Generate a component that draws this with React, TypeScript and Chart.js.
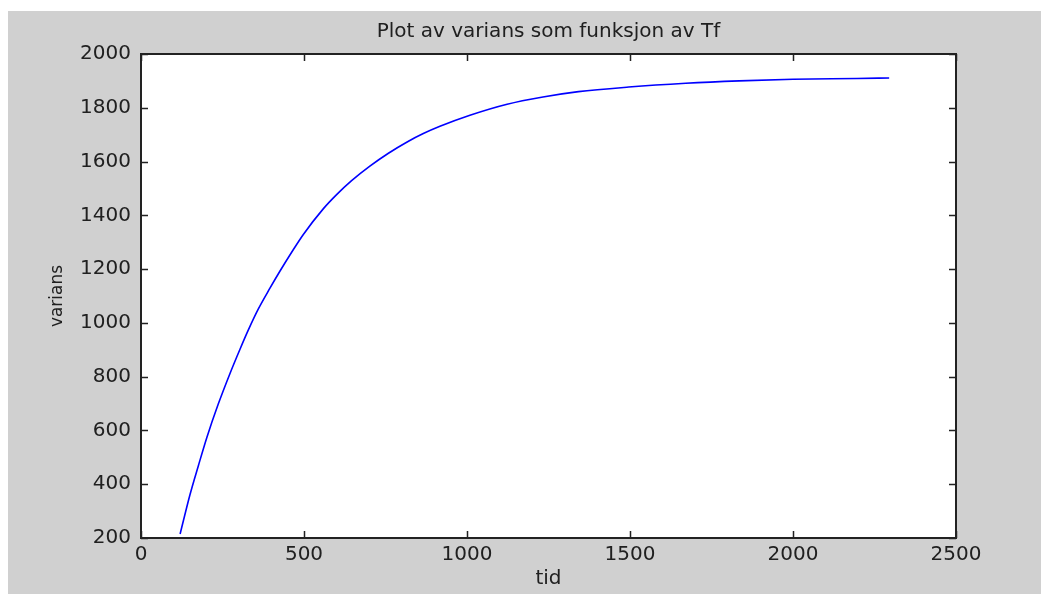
import React, { useEffect, useRef } from "react";
import { Chart, registerables } from "chart.js";

Chart.register(...registerables);

const tid: number[] = [120, 150, 176, 202, 237, 273, 304, 329, 360, 396, 426, 467, 498, 559, 600, 646, 702, 759, 815, 866, 917, 1009, 1123, 1233, 1342, 1496, 1671, 1835, 2000, 2196, 2295];
const varians: number[] = [215, 360, 469, 574, 698, 812, 903, 973, 1052, 1130, 1192, 1272, 1329, 1424, 1477, 1529, 1583, 1631, 1672, 1704, 1731, 1772, 1813, 1840, 1860, 1877, 1891, 1900, 1906, 1909, 1911];

const xTicks: number[] = [0, 500, 1000, 1500, 2000, 2500];
const yTicks: number[] = [200, 400, 600, 800, 1000, 1200, 1400, 1600, 1800, 2000];

const titleText = "Plot av varians som funksjon av Tf";
const xLabel = "tid";
const yLabel = "varians";

const FONT = "'DejaVu Sans', 'Liberation Sans', Arial, sans-serif";
const TEXT = "#202020";
const BG = "#d0d0d0";

const framePlugin = {
  id: "matlabFrame",
  beforeDraw(chart: any) {
    const { ctx, chartArea } = chart;
    ctx.save();
    ctx.fillStyle = BG;
    ctx.fillRect(0, 0, chart.width, chart.height);
    ctx.fillStyle = "#ffffff";
    ctx.fillRect(chartArea.left, chartArea.top, chartArea.right - chartArea.left, chartArea.bottom - chartArea.top);
    ctx.restore();
  },
  afterDatasetsDraw(chart: any) {
    const { ctx, chartArea } = chart;
    const { left, right, top, bottom } = chartArea;
    const xs = chart.scales.x;
    const ys = chart.scales.y;
    const len = 7;
    ctx.save();
    ctx.strokeStyle = "#222222";
    ctx.lineWidth = 1.5;
    ctx.beginPath();
    xTicks.forEach((v) => {
      const px = Math.round(xs.getPixelForValue(v)) + 0.5;
      ctx.moveTo(px, bottom);
      ctx.lineTo(px, bottom - len);
      ctx.moveTo(px, top);
      ctx.lineTo(px, top + len);
    });
    yTicks.forEach((v) => {
      const py = Math.round(ys.getPixelForValue(v)) + 0.5;
      ctx.moveTo(left, py);
      ctx.lineTo(left + len, py);
      ctx.moveTo(right, py);
      ctx.lineTo(right - len, py);
    });
    ctx.stroke();
    ctx.lineWidth = 2;
    ctx.strokeRect(left, top, right - left, bottom - top);
    ctx.restore();
  },
};

export default function App() {
  const ref = useRef<HTMLCanvasElement | null>(null);

  useEffect(() => {
    if (!ref.current) return;
    const chart = new Chart(ref.current, {
      type: "line",
      data: {
        labels: tid,
        datasets: [
          {
            data: tid.map((t, i) => ({ x: t, y: varians[i] })),
            borderColor: "#0000ff",
            borderWidth: 1.6,
            pointRadius: 0,
            fill: false,
            cubicInterpolationMode: "monotone",
          },
        ],
      },
      options: {
        animation: false,
        responsive: false,
        devicePixelRatio: 1,
        layout: { padding: { left: 0, right: 85, top: 0, bottom: 0 } },
        plugins: {
          legend: { display: false },
          tooltip: { enabled: false },
          title: {
            display: true,
            text: titleText,
            fullSize: false,
            color: TEXT,
            font: { family: FONT, size: 20, weight: "normal" },
            padding: { top: 9, bottom: 10 },
          },
        },
        scales: {
          x: {
            type: "linear",
            min: 0,
            max: 2500,
            afterBuildTicks: (scale: any) => {
              scale.ticks = xTicks.map((v) => ({ value: v }));
            },
            afterFit: (scale: any) => {
              scale.height = 56;
            },
            border: { display: false },
            grid: { display: false, drawTicks: false },
            ticks: {
              padding: 5,
              color: TEXT,
              font: { family: FONT, size: 20 },
              maxRotation: 0,
              autoSkip: false,
              callback: (v: any) => String(v),
            },
            title: {
              display: true,
              text: xLabel,
              color: TEXT,
              font: { family: FONT, size: 20 },
              padding: { top: 0, bottom: 3 },
            },
          },
          y: {
            type: "linear",
            min: 200,
            max: 2000,
            afterBuildTicks: (scale: any) => {
              scale.ticks = yTicks.map((v) => ({ value: v }));
            },
            afterFit: (scale: any) => {
              scale.width = 133;
            },
            border: { display: false },
            grid: { display: false, drawTicks: false },
            ticks: {
              padding: 10,
              color: TEXT,
              font: { family: FONT, size: 20 },
              autoSkip: false,
              callback: (v: any) => String(v),
            },
            title: {
              display: true,
              text: yLabel,
              color: TEXT,
              font: { family: FONT, size: 17 },
              padding: { top: 39, bottom: 0 },
            },
          },
        },
      },
      plugins: [framePlugin],
    } as any);
    return () => chart.destroy();
  }, []);

  return (
    <div
      style={{
        position: "fixed",
        left: 0,
        top: 0,
        width: 1041,
        height: 594,
        background: "#ffffff",
        overflow: "hidden",
      }}
    >
      <canvas
        ref={ref}
        width={1033}
        height={583}
        style={{ position: "absolute", left: 8, top: 11, width: 1033, height: 583 }}
      />
    </div>
  );
}
